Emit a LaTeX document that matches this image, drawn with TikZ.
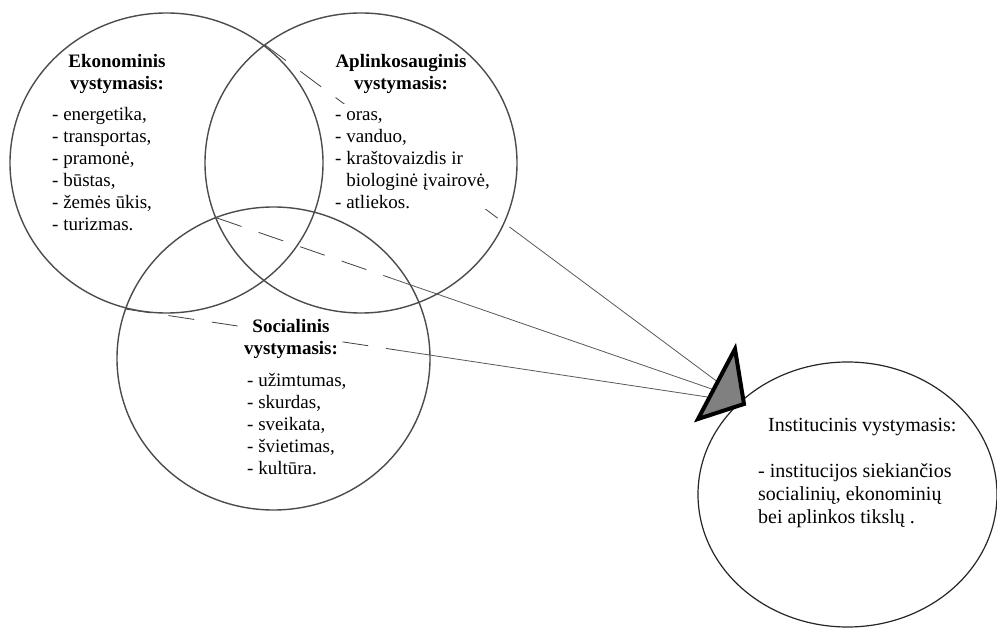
\documentclass[tikz,border=0pt]{standalone}
\usepackage{fontspec}
\setmainfont{Liberation Serif}
\usetikzlibrary{shapes.geometric,calc}
\tikzset{%
  % Specifications for style of nodes:
            ring/.style = {ellipse, draw=black!70, line width=1.4pt,
                           inner sep=0pt, minimum width=312pt, minimum height=300pt},
        textbase/.style = {inner sep=1pt, fill=white,
                           font=\fontsize{19}{22}\selectfont},
       headstyle/.style = {textbase, anchor=north, align=center,
                           font=\fontsize{19}{22}\selectfont\bfseries},
       liststyle/.style = {textbase, anchor=north west, align=left},
         instbox/.style = {textbase, anchor=north west, align=left,
                           font=\fontsize{20}{23}\selectfont},
        longdash/.style = {dash pattern=on 26pt off 18pt},
        dashline/.style = {draw=black!75, line width=0.8pt, longdash},
        fullline/.style = {draw=black!65, line width=0.8pt},
           wedge/.style = {draw=black, fill=black!50, line width=4pt, line join=miter},
}

\begin{document}
\begin{tikzpicture}[x=1pt, y=-1pt]
  \fill[white] (0,0) rectangle (997,628);
  \useasboundingbox (0,0) rectangle (997,628);

  % Meeting points of the rings and corners of the wedge
  \coordinate (ekapl)    at (265,45);
  \coordinate (aplsoc)   at (217,218);
  \coordinate (eksoc)    at (125,309);
  \coordinate (tritop)   at (735,349);
  \coordinate (trileft)  at (698,419);
  \coordinate (triright) at (744,404);
  \coordinate (t1) at ($(tritop)!0.47!(trileft)$);
  \coordinate (t2) at ($(tritop)!0.58!(trileft)$);
  \coordinate (t3) at ($(tritop)!0.69!(trileft)$);

  % Lines towards the wedge, dashed inside the rings
  \draw[dashline] (ekapl) -- ($(ekapl)!0.54!(t1)$) coordinate (m1);
  \draw[fullline] (m1) -- (t1);
  \draw[dashline] (aplsoc) -- ($(aplsoc)!0.35!(t2)$) coordinate (m2);
  \draw[fullline] (m2) -- (t2);
  \draw[dashline] (eksoc) -- ($(eksoc)!0.47!(t3)$) coordinate (m3);
  \draw[fullline] (m3) -- (t3);

  % Texts
  \node (ekhead)  [headstyle] at (117,50.6)  {\strut Ekonominis\\vystymasis:};
  \node (eklist)  [liststyle] at (51,103.6)  {\strut - energetika,\\- transportas,\\- pramonė,\\- būstas,\\- žemės ūkis,\\- turizmas.};
  \node (aplhead) [headstyle] at (401,50.6)  {\strut Aplinkosauginis\\vystymasis:};
  \node (apllist) [liststyle] at (334,103.6) {\strut - oras,\\- vanduo,\\- kraštovaizdis ir\\\phantom{-~}biologinė įvairovė,\\- atliekos.};
  \node (sochead) [headstyle] at (291,315.6) {\strut Socialinis\\vystymasis:};
  \node (soclist) [liststyle] at (246,369.6) {\strut - užimtumas,\\- skurdas,\\- sveikata,\\- švietimas,\\- kultūra.};
  \node (insttext) [instbox]  at (757,414)   {\strut\hspace{10pt}Institucinis vystymasis:\\[23pt]- institucijos siekiančios\\socialinių, ekonominių\\bei aplinkos tikslų .};

  % Rings
  \node (ekon) [ring, minimum width=313pt] at (166.5,163) {};
  \node (apl)  [ring]                      at (361,163)   {};
  \node (soc)  [ring, minimum width=313pt, minimum height=303pt] at (273.5,358.5) {};
  \node (inst) [ring, draw=black!85, line width=1.2pt,
                minimum width=299pt, minimum height=265pt] at (847.5,494.5) {};

  % Wedge
  \draw[wedge] (tritop) -- (trileft) -- (triright) -- cycle;
\end{tikzpicture}
\end{document}
